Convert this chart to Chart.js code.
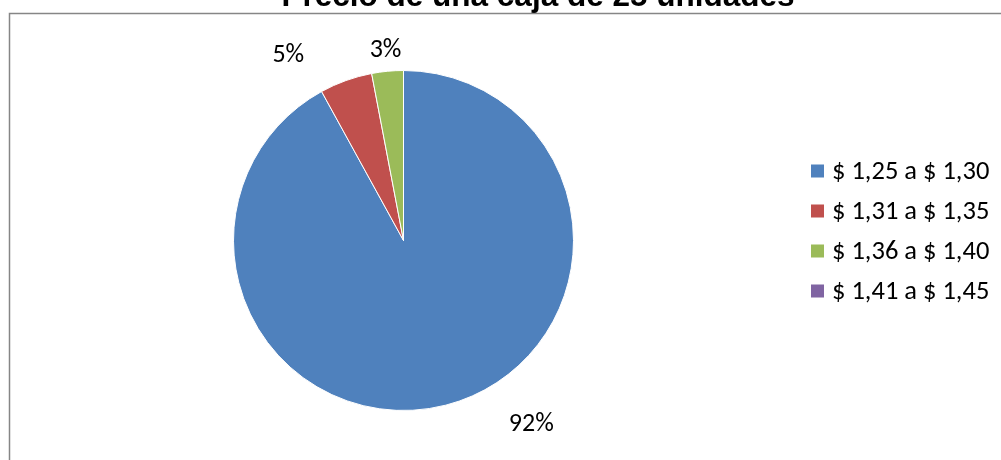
<!DOCTYPE html>
<html>
<head>
<meta charset="utf-8">
<title>Precio de una caja de 25 unidades</title>
<script src="https://cdn.jsdelivr.net/npm/chart.js@4.4.1/dist/chart.umd.min.js"></script>
<style>
  html, body { margin: 0; padding: 0; background: #fff; }
  canvas { display: block; }
</style>
</head>
<body>
<canvas id="pieChart" width="1001" height="460"></canvas>
<script>
// price ranges and share of answers (%)
const categories = ['$ 1,25 a $ 1,30', '$ 1,31 a $ 1,35', '$ 1,36 a $ 1,40', '$ 1,41 a $ 1,45'];
const shares = [92, 5, 3, 0];
const sliceColors = ['#4F81BD', '#C0504D', '#9BBB59', '#8064A2'];
const chartTitle = 'Precio de una caja de 25 unidades';

// where the percentage labels sit around the pie (degrees shifted from slice middle, px from centre)
const labelShift = [-20.4, -12.1, 0, 0];
const labelDist = [224, 218, 191, 191];

const bodyFont = "Carlito, 'Open Sans', sans-serif";

const framePlugin = {
  id: 'frame',
  beforeDraw(chart) {
    const ctx = chart.ctx;
    ctx.save();
    ctx.fillStyle = '#ffffff';
    ctx.fillRect(0, 0, chart.width, chart.height);
    ctx.strokeStyle = '#868686';
    ctx.lineWidth = 1.5;
    ctx.beginPath();
    ctx.moveTo(9.5, chart.height);
    ctx.lineTo(9.5, 13.5);
    ctx.lineTo(chart.width, 13.5);
    ctx.stroke();

    ctx.fillStyle = '#000';
    ctx.font = "bold 31.5px 'Liberation Sans', Arial, sans-serif";
    ctx.textAlign = 'center';
    ctx.textBaseline = 'alphabetic';
    ctx.fillText(chartTitle, 538, 6);
    ctx.restore();
  }
};

const labelsPlugin = {
  id: 'sliceLabels',
  afterDatasetsDraw(chart) {
    const ctx = chart.ctx;
    const meta = chart.getDatasetMeta(0);
    const total = shares.reduce((a, b) => a + b, 0);
    ctx.save();
    ctx.fillStyle = '#000';
    ctx.font = '26px ' + bodyFont;
    ctx.textAlign = 'center';
    ctx.textBaseline = 'middle';
    meta.data.forEach((arc, i) => {
      if (!shares[i]) return;
      const mid = (arc.startAngle + arc.endAngle) / 2 + labelShift[i] * Math.PI / 180;
      const x = arc.x + Math.cos(mid) * labelDist[i];
      const y = arc.y + Math.sin(mid) * labelDist[i];
      ctx.fillText(Math.round(shares[i] / total * 100) + '%', x, y);
    });

    // legend on the right
    ctx.font = '26.5px ' + bodyFont;
    ctx.textAlign = 'left';
    categories.forEach((c, i) => {
      const cy = 171 + i * 40;
      ctx.fillStyle = sliceColors[i];
      ctx.fillRect(811, cy - 6.5, 13, 13);
      ctx.fillStyle = '#000';
      ctx.fillText(c, 832, cy + 1);
    });
    ctx.restore();
  }
};

new Chart(document.getElementById('pieChart'), {
  type: 'pie',
  data: {
    labels: categories,
    datasets: [{
      data: shares,
      backgroundColor: sliceColors,
      borderColor: '#ffffff',
      borderWidth: 1
    }]
  },
  options: {
    responsive: false,
    animation: false,
    layout: { padding: { left: 233, right: 427, top: 70, bottom: 49 } },
    plugins: {
      legend: { display: false },
      title: { display: false },
      tooltip: { enabled: false }
    }
  },
  plugins: [framePlugin, labelsPlugin]
});
</script>
</body>
</html>
